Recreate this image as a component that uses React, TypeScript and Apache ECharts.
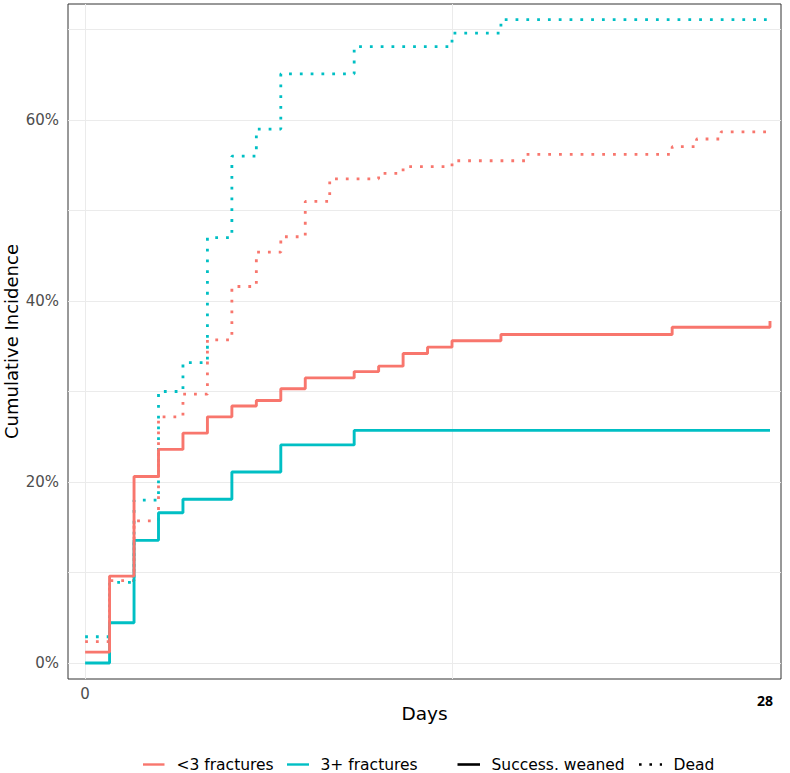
import React, { useEffect, useRef } from 'react';
import * as echarts from 'echarts';

const RED = '#F8766D';
const TEAL = '#00BFC4';

// <3 fractures, Success. weaned (solid)
const lt3WeanedDays = [0, 1, 2, 3, 4, 5, 6, 7, 8, 9, 11, 12, 13, 14, 15, 17, 24, 28];
const lt3WeanedPct = [1.2, 9.6, 20.6, 23.6, 25.4, 27.2, 28.4, 29.0, 30.3, 31.5, 32.2, 32.8, 34.2, 34.9, 35.6, 36.3, 37.1, 37.8];
// 3+ fractures, Success. weaned (solid)
const ge3WeanedDays = [0, 1, 2, 3, 4, 6, 8, 11, 28];
const ge3WeanedPct = [0, 4.45, 13.55, 16.6, 18.1, 21.1, 24.1, 25.7, 25.7];
// <3 fractures, Dead (dotted)
const lt3DeadDays = [0, 1, 2, 3, 4, 5, 6, 7, 8, 9, 10, 12, 13, 15, 18, 24, 25, 26, 28];
const lt3DeadPct = [2.35, 9.1, 15.7, 27.2, 29.7, 35.7, 41.6, 45.4, 47.1, 51.0, 53.5, 54.1, 54.85, 55.5, 56.2, 57.05, 57.9, 58.7, 58.7];
// 3+ fractures, Dead (dotted)
const ge3DeadDays = [0, 1, 2, 3, 4, 5, 6, 7, 8, 11, 15, 17, 28];
const ge3DeadPct = [2.9, 8.9, 18.0, 30.0, 33.2, 47.0, 56.0, 59.0, 65.1, 68.1, 69.6, 71.1, 71.1];

const yTicks = [0, 20, 40, 60];
const yGrid = [0, 10, 20, 30, 40, 50, 60, 70];
const xTicks = [0];
const xGrid = [0, 15];

const FONT = '"DejaVu Sans", sans-serif';

export default function App() {
  const ref = useRef<HTMLDivElement>(null);
  useEffect(() => {
    document.body.style.margin = '0';
    const chart = echarts.init(ref.current!, null, { renderer: 'svg' });
    const pair = (xs: number[], ys: number[]) => xs.map((x, i) => [x, ys[i]]);
    const solid = (color: string) => ({ type: 'solid', width: 2.9, color, cap: 'butt' });
    const dotted = (color: string) => ({ type: [2.8, 8.0], width: 2.8, color, cap: 'butt' });
    const lineSeries = (name: string, xs: number[], ys: number[], ls: any) => ({
      type: 'line',
      name,
      step: 'end',
      symbol: 'none',
      silent: true,
      z: 3,
      data: pair(xs, ys),
      lineStyle: ls,
      itemStyle: { color: ls.color },
    });
    chart.setOption({
      animation: false,
      textStyle: { fontFamily: FONT },
      grid: {
        left: 68,
        right: 9,
        top: 4,
        bottom: 94,
        show: true,
        borderColor: '#333333',
        borderWidth: 1,
        backgroundColor: 'transparent',
        containLabel: false,
        outerBoundsMode: 'none',
      },
      xAxis: {
        type: 'value',
        min: -0.7,
        max: 28.45,
        axisLine: { show: false },
        axisTick: { show: true, customValues: xTicks, length: 4, lineStyle: { color: '#333333', width: 1 } },
        axisLabel: { customValues: xTicks, color: '#4D4D4D', fontSize: 15, margin: 7, fontFamily: FONT },
        splitLine: { show: false },
        name: 'Days',
        nameLocation: 'middle',
        nameGap: 25,
        nameMoveOverlap: false,
        nameTextStyle: { color: '#000000', fontSize: 18.5, fontFamily: FONT },
      },
      yAxis: {
        type: 'value',
        min: -1.77,
        max: 72.82,
        axisLine: { show: false },
        axisTick: { show: true, customValues: yTicks, length: 4, lineStyle: { color: '#333333', width: 1 } },
        axisLabel: { customValues: yTicks, formatter: '{value}%', color: '#4D4D4D', fontSize: 15, margin: 9, fontFamily: FONT },
        splitLine: { show: false },
        name: 'Cumulative Incidence',
        nameLocation: 'middle',
        nameGap: 48,
        nameMoveOverlap: false,
        nameTextStyle: { color: '#000000', fontSize: 18, fontFamily: FONT },
      },
      series: [
        {
          type: 'line',
          name: 'grid',
          data: [],
          silent: true,
          z: 1,
          markLine: {
            silent: true,
            z: 1,
            symbol: ['none', 'none'],
            label: { show: false },
            emphasis: { disabled: true },
            lineStyle: { color: '#EBEBEB', width: 1, type: 'solid' },
            data: [
              ...yGrid.map((v) => ({ yAxis: v })),
              ...xGrid.map((v) => ({ xAxis: v })),
            ],
          },
        },
        lineSeries('3+ fractures · Dead', ge3DeadDays, ge3DeadPct, dotted(TEAL)),
        lineSeries('<3 fractures · Dead', lt3DeadDays, lt3DeadPct, dotted(RED)),
        lineSeries('3+ fractures · Success. weaned', ge3WeanedDays, ge3WeanedPct, solid(TEAL)),
        lineSeries('<3 fractures · Success. weaned', lt3WeanedDays, lt3WeanedPct, solid(RED)),
      ],
      graphic: [
        {
          type: 'text',
          x: 765,
          y: 700,
          style: { text: '28', align: 'center', verticalAlign: 'middle', font: 'bold 14px "Open Sans", sans-serif', fill: '#000000' },
        },
        { type: 'line', shape: { x1: 143, y1: 764.5, x2: 164.5, y2: 764.5 }, style: { stroke: RED, lineWidth: 2.4 } },
        {
          type: 'text',
          x: 176.5,
          y: 764.5,
          style: { text: '<3 fractures', align: 'left', verticalAlign: 'middle', font: '15.5px "DejaVu Sans", sans-serif', fill: '#000000' },
        },
        { type: 'line', shape: { x1: 287, y1: 764.5, x2: 309, y2: 764.5 }, style: { stroke: TEAL, lineWidth: 2.4 } },
        {
          type: 'text',
          x: 320.5,
          y: 764.5,
          style: { text: '3+ fractures', align: 'left', verticalAlign: 'middle', font: '15.5px "DejaVu Sans", sans-serif', fill: '#000000' },
        },
        { type: 'line', shape: { x1: 457.5, y1: 764.5, x2: 480, y2: 764.5 }, style: { stroke: '#000000', lineWidth: 2.6 } },
        {
          type: 'text',
          x: 491.5,
          y: 764.5,
          style: { text: 'Success. weaned', align: 'left', verticalAlign: 'middle', font: '15.5px "DejaVu Sans", sans-serif', fill: '#000000' },
        },
        {
          type: 'line',
          shape: { x1: 639, y1: 764.5, x2: 662, y2: 764.5 },
          style: { stroke: '#000000', lineWidth: 2.6, lineDash: [2.6, 7.8] },
        },
        {
          type: 'text',
          x: 673.5,
          y: 764.5,
          style: { text: 'Dead', align: 'left', verticalAlign: 'middle', font: '15.5px "DejaVu Sans", sans-serif', fill: '#000000' },
        },
      ],
    });
    return () => chart.dispose();
  }, []);
  return <div ref={ref} style={{ width: 790, height: 773 }} />;
}
